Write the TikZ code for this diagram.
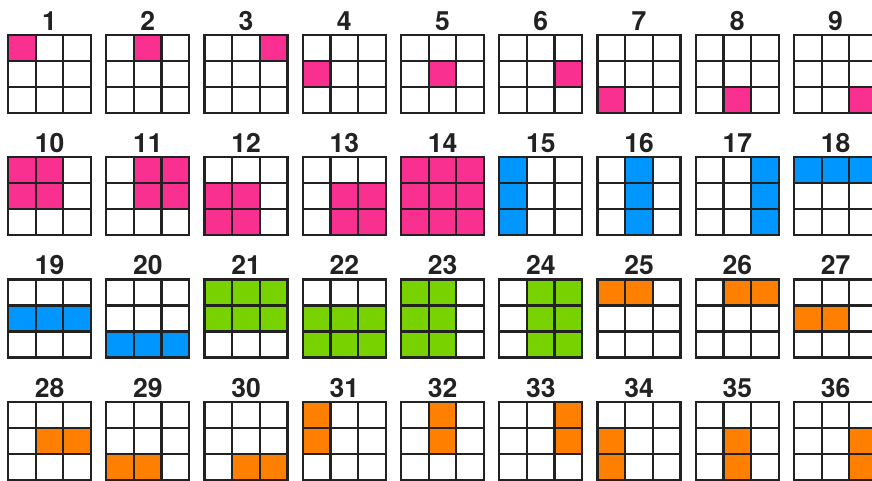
\documentclass[tikz,border=0pt]{standalone}
\usepackage{fontspec}
\setsansfont{TeX Gyre Heros}
\definecolor{pk}{RGB}{250,48,145}
\definecolor{bl}{RGB}{0,150,255}
\definecolor{gr}{RGB}{120,210,0}
\definecolor{og}{RGB}{255,128,0}
\definecolor{ink}{RGB}{34,34,34}
\tikzset{
  gridline/.style={draw=ink,line width=2.2pt,line join=miter,line cap=rect},
  lbl/.style={text=ink,font=\fontsize{26.5}{27}\selectfont\sffamily\bfseries,inner sep=0pt,anchor=base}
}
\newcommand{\puzzle}[5]{%
  \pgfmathsetmacro\gx{8+98.25*#2}%
  \pgfmathsetmacro\gy{35+122.2*#3}%
  \begin{scope}[shift={(\gx,\gy)}]
    \foreach \r/\c in {#5} {\fill[#4] (\c*27.667,\r*26) rectangle ++(27.667,26);}
    \foreach \i in {1,2} {
      \draw[gridline] (\i*27.667,0) -- (\i*27.667,78);
      \draw[gridline] (0,\i*26) -- (83,\i*26);
    }
    \draw[gridline] (0,0) rectangle (83,78);
    \node[lbl] (n#1) at (41.5,-4.5) {#1};
  \end{scope}}
\begin{document}
\begin{tikzpicture}[x=1pt,y=-1pt]
\fill[white] (0,0) rectangle (872,480);
\useasboundingbox (0,0) rectangle (872,480);
% row 1
\puzzle{1}{0}{0}{pk}{0/0}
\puzzle{2}{1}{0}{pk}{0/1}
\puzzle{3}{2}{0}{pk}{0/2}
\puzzle{4}{3}{0}{pk}{1/0}
\puzzle{5}{4}{0}{pk}{1/1}
\puzzle{6}{5}{0}{pk}{1/2}
\puzzle{7}{6}{0}{pk}{2/0}
\puzzle{8}{7}{0}{pk}{2/1}
\puzzle{9}{8}{0}{pk}{2/2}
% row 2
\puzzle{10}{0}{1}{pk}{0/0,0/1,1/0,1/1}
\puzzle{11}{1}{1}{pk}{0/1,0/2,1/1,1/2}
\puzzle{12}{2}{1}{pk}{1/0,1/1,2/0,2/1}
\puzzle{13}{3}{1}{pk}{1/1,1/2,2/1,2/2}
\puzzle{14}{4}{1}{pk}{0/0,0/1,0/2,1/0,1/1,1/2,2/0,2/1,2/2}
\puzzle{15}{5}{1}{bl}{0/0,1/0,2/0}
\puzzle{16}{6}{1}{bl}{0/1,1/1,2/1}
\puzzle{17}{7}{1}{bl}{0/2,1/2,2/2}
\puzzle{18}{8}{1}{bl}{0/0,0/1,0/2}
% row 3
\puzzle{19}{0}{2}{bl}{1/0,1/1,1/2}
\puzzle{20}{1}{2}{bl}{2/0,2/1,2/2}
\puzzle{21}{2}{2}{gr}{0/0,0/1,0/2,1/0,1/1,1/2}
\puzzle{22}{3}{2}{gr}{1/0,1/1,1/2,2/0,2/1,2/2}
\puzzle{23}{4}{2}{gr}{0/0,0/1,1/0,1/1,2/0,2/1}
\puzzle{24}{5}{2}{gr}{0/1,0/2,1/1,1/2,2/1,2/2}
\puzzle{25}{6}{2}{og}{0/0,0/1}
\puzzle{26}{7}{2}{og}{0/1,0/2}
\puzzle{27}{8}{2}{og}{1/0,1/1}
% row 4
\puzzle{28}{0}{3}{og}{1/1,1/2}
\puzzle{29}{1}{3}{og}{2/0,2/1}
\puzzle{30}{2}{3}{og}{2/1,2/2}
\puzzle{31}{3}{3}{og}{0/0,1/0}
\puzzle{32}{4}{3}{og}{0/1,1/1}
\puzzle{33}{5}{3}{og}{0/2,1/2}
\puzzle{34}{6}{3}{og}{1/0,2/0}
\puzzle{35}{7}{3}{og}{1/1,2/1}
\puzzle{36}{8}{3}{og}{1/2,2/2}
\end{tikzpicture}
\end{document}
